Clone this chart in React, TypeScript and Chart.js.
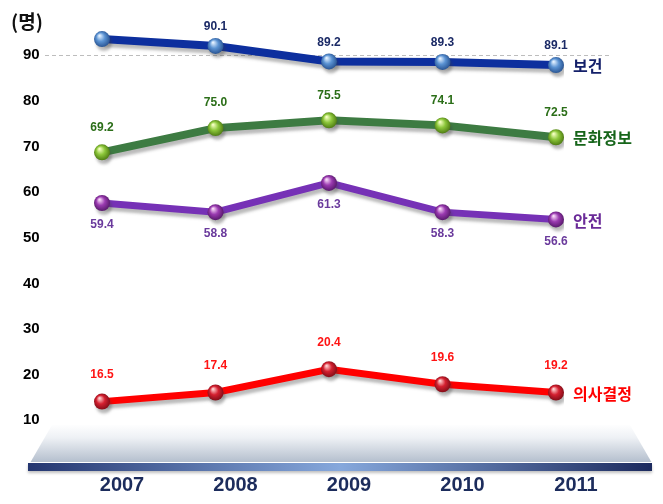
import React, { useEffect, useRef } from 'react';
import { Chart, registerables } from 'chart.js';

Chart.register(...registerables);

// ---- data ----
const years = ['2007', '2008', '2009', '2010', '2011'];
const yTicks = [10, 20, 30, 40, 50, 60, 70, 80, 90];
const unitLabel = '(명)';
const seriesNames = ['보건', '문화정보', '안전', '의사결정'];

const healthValues = [93.5, 92.0, 88.6, 88.5, 87.8];
const healthLabels = ['', '90.1', '89.2', '89.3', '89.1'];

const cultureValues = [68.7, 74.0, 75.7, 74.6, 72.0];
const cultureLabels = ['69.2', '75.0', '75.5', '74.1', '72.5'];

const safetyValues = [57.6, 55.6, 62.0, 55.6, 54.0];
const safetyLabels = ['59.4', '58.8', '61.3', '58.3', '56.6'];

const decisionValues = [14.1, 16.1, 21.2, 17.9, 16.1];
const decisionLabels = ['16.5', '17.4', '20.4', '19.6', '19.2'];

const referenceLine = 90;

// ---- styles ----
const NUM_FONT = '"Liberation Sans", Arial, sans-serif';
const KR_FONT = '"Noto Sans CJK KR", "Noto Sans", sans-serif';

const styles = [
  { line: '#0d2f9e', width: 8, label: '#1b2a66', name: '#14206a', sphere: ['#e2f0ff', '#5b93d3', '#214a88'], labelDy: -19 },
  { line: '#3d7b42', width: 8, label: '#2b6e18', name: '#16651a', sphere: ['#f4ffc0', '#8cc63a', '#44700c'], labelDy: -25 },
  { line: '#7631b6', width: 7, label: '#6a3a9c', name: '#6a2a98', sphere: ['#f8d8f8', '#9a3ab0', '#4e1462'], labelDy: 22 },
  { line: '#ff0000', width: 7, label: '#ff1414', name: '#ff0000', sphere: ['#ffd0d0', '#d42030', '#760a14'], labelDy: -27 },
];

const seriesValues = [healthValues, cultureValues, safetyValues, decisionValues];
const seriesLabels = [healthLabels, cultureLabels, safetyLabels, decisionLabels];

export default function App() {
  const ref = useRef<HTMLCanvasElement>(null);

  useEffect(() => {
    const canvas = ref.current!;

    const sphereFill = (idx: number) => (c: any) => {
      const st = styles[idx];
      const ch = c.chart;
      const xs = ch.scales?.x;
      const ys = ch.scales?.y;
      if (!xs || !ys || c.type !== 'data') return st.sphere[1];
      const x = xs.getPixelForValue(c.dataIndex);
      const y = ys.getPixelForValue(c.raw);
      if (!isFinite(x) || !isFinite(y)) return st.sphere[1];
      const g = ch.ctx.createRadialGradient(x - 2.5, y - 3.5, 0.5, x, y, 9);
      g.addColorStop(0, st.sphere[0]);
      g.addColorStop(0.45, st.sphere[1]);
      g.addColorStop(1, st.sphere[2]);
      return g;
    };

    const platformPlugin = {
      id: 'platform',
      beforeDraw(chart: any) {
        const ctx = chart.ctx;
        ctx.save();
        // floor
        const fg = ctx.createLinearGradient(0, 424, 0, 463);
        fg.addColorStop(0, 'rgba(255,255,255,1)');
        fg.addColorStop(0.35, '#eef1f5');
        fg.addColorStop(1, '#b2bdcc');
        ctx.fillStyle = fg;
        ctx.beginPath();
        ctx.moveTo(30, 463);
        ctx.lineTo(52, 425);
        ctx.lineTo(630, 425);
        ctx.lineTo(652, 463);
        ctx.closePath();
        ctx.fill();
        // bar
        const bg = ctx.createLinearGradient(28, 0, 652, 0);
        bg.addColorStop(0, '#243670');
        bg.addColorStop(0.5, '#86a8dc');
        bg.addColorStop(1, '#1c2a5e');
        ctx.fillStyle = bg;
        ctx.shadowColor = 'rgba(0,0,0,0.25)';
        ctx.shadowOffsetY = 2;
        ctx.shadowBlur = 3;
        ctx.fillRect(28, 463, 624, 8);
        ctx.shadowColor = 'transparent';
        ctx.fillStyle = '#ffffff';
        ctx.fillRect(28, 462, 624, 1);
        // dashed reference line
        const y = chart.scales.y.getPixelForValue(referenceLine);
        ctx.strokeStyle = '#bdbdbd';
        ctx.lineWidth = 1;
        ctx.setLineDash([4, 3]);
        ctx.beginPath();
        ctx.moveTo(45, Math.round(y) + 0.5);
        ctx.lineTo(612, Math.round(y) + 0.5);
        ctx.stroke();
        ctx.setLineDash([]);
        // unit label
        ctx.fillStyle = '#111';
        ctx.font = `bold 19px ${KR_FONT}`;
        ctx.textAlign = 'left';
        ctx.textBaseline = 'middle';
        ctx.fillText(unitLabel, 11, 22);
        ctx.restore();
      },
    };

    const shadowPlugin = {
      id: 'lineShadow',
      beforeDatasetDraw(chart: any) {
        const ctx = chart.ctx;
        ctx.save();
        ctx.shadowColor = 'rgba(60,60,60,0.35)';
        ctx.shadowOffsetX = 2;
        ctx.shadowOffsetY = 4;
        ctx.shadowBlur = 3;
      },
      afterDatasetDraw(chart: any) {
        chart.ctx.restore();
      },
    };

    const labelPlugin = {
      id: 'valueLabels',
      afterDatasetsDraw(chart: any) {
        const ctx = chart.ctx;
        ctx.save();
        chart.data.datasets.forEach((ds: any, di: number) => {
          const meta = chart.getDatasetMeta(di);
          const st = styles[di];
          ctx.textAlign = 'center';
          ctx.textBaseline = 'middle';
          ctx.font = `bold 12px ${NUM_FONT}`;
          ctx.fillStyle = st.label;
          meta.data.forEach((pt: any, i: number) => {
            const txt = seriesLabels[di][i];
            if (txt) ctx.fillText(txt, pt.x, pt.y + st.labelDy);
          });
          const last = meta.data[meta.data.length - 1];
          ctx.textAlign = 'left';
          ctx.font = `bold 16px ${KR_FONT}`;
          ctx.fillStyle = st.name;
          ctx.fillText(seriesNames[di], last.x + 17, last.y + 1);
        });
        ctx.restore();
      },
    };

    const chart = new Chart(canvas, {
      type: 'line',
      data: {
        labels: years,
        datasets: seriesValues.map((vals, i) => ({
          label: seriesNames[i],
          data: vals,
          borderColor: styles[i].line,
          borderWidth: styles[i].width,
          tension: 0,
          pointRadius: 8,
          pointHoverRadius: 8,
          pointBorderWidth: 0,
          pointBackgroundColor: sphereFill(i),
          fill: false,
        })),
      },
      options: {
        responsive: false,
        animation: false,
        events: [],
        layout: { padding: { left: 23, right: 107, top: 9.4, bottom: 0 } },
        plugins: { legend: { display: false }, tooltip: { enabled: false } },
        scales: {
          x: {
            type: 'category',
            offset: false,
            grid: { display: false, drawTicks: false },
            border: { display: false },
            ticks: {
              font: { family: NUM_FONT, size: 20, weight: 'bold' },
              color: '#1c2c5c',
              padding: 7,
              labelOffset: 20,
              maxRotation: 0,
              autoSkip: false,
            },
            afterFit: (a: any) => { a.height = 38; },
          },
          y: {
            min: 0,
            max: 100,
            grid: { display: false, drawTicks: false },
            border: { display: false },
            ticks: {
              stepSize: 10,
              padding: 0,
              crossAlign: 'far',
              color: '#000',
              font: { family: NUM_FONT, size: 15, weight: 'bold' },
              callback: (v: any) => (yTicks.includes(Number(v)) ? String(v) : null),
            },
            afterFit: (a: any) => { a.width = 79; },
          },
        },
      },
      plugins: [platformPlugin, shadowPlugin, labelPlugin],
    } as any);

    return () => chart.destroy();
  }, []);

  return (
    <div style={{ position: 'absolute', left: 0, top: 0, width: 663, height: 504, background: '#fff' }}>
      <canvas ref={ref} width={663} height={504} style={{ display: 'block' }} />
    </div>
  );
}
